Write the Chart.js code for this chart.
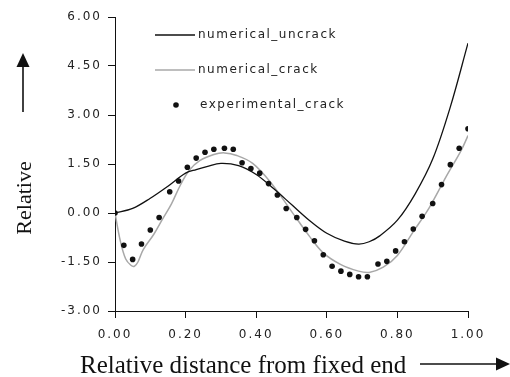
<!DOCTYPE html>
<html>
<head>
<meta charset="utf-8">
<script src="https://cdn.jsdelivr.net/npm/chart.js@4/dist/chart.umd.min.js"></script>
<style>
  html, body { margin: 0; padding: 0; background: #fff; }
  #wrap { width: 510px; height: 377px; }
</style>
</head>
<body>
<div id="wrap"><canvas id="modeChart" width="510" height="377"></canvas></div>
<script>
// ---- data ----
const seriesNames = ["numerical_uncrack", "numerical_crack", "experimental_crack"];

const xUncrack = [0, 0.05, 0.10, 0.15, 0.20, 0.23, 0.26, 0.30, 0.35, 0.40, 0.45, 0.50, 0.55, 0.60, 0.65, 0.69, 0.72, 0.75, 0.80, 0.85, 0.90, 0.95, 1.00];
const yUncrack = [0, 0.14, 0.45, 0.82, 1.22, 1.33, 1.42, 1.52, 1.45, 1.18, 0.74, 0.26, -0.22, -0.62, -0.86, -0.95, -0.88, -0.70, -0.22, 0.58, 1.65, 3.25, 5.20];

const xCrack = [0, 0.015, 0.03, 0.045, 0.055, 0.065, 0.08, 0.11, 0.135, 0.16, 0.185, 0.21, 0.24, 0.28, 0.31, 0.345, 0.39, 0.44, 0.50, 0.55, 0.59, 0.64, 0.69, 0.72, 0.76, 0.80, 0.845, 0.89, 0.94, 0.98, 1.00];
const yCrack = [0, -0.85, -1.40, -1.60, -1.63, -1.50, -1.12, -0.65, -0.18, 0.28, 0.85, 1.30, 1.60, 1.79, 1.84, 1.76, 1.52, 0.95, 0.05, -0.70, -1.22, -1.58, -1.78, -1.82, -1.66, -1.30, -0.57, 0.16, 1.15, 1.90, 2.37];

const xExp = [0, 0.025, 0.05, 0.075, 0.10, 0.125, 0.155, 0.18, 0.205, 0.23, 0.255, 0.28, 0.31, 0.335, 0.36, 0.385, 0.41, 0.435, 0.46, 0.485, 0.515, 0.54, 0.565, 0.59, 0.615, 0.64, 0.665, 0.69, 0.715, 0.745, 0.77, 0.795, 0.82, 0.845, 0.87, 0.90, 0.925, 0.95, 0.975, 1.00];
const yExp = [0, -0.99, -1.42, -0.95, -0.52, -0.14, 0.65, 0.98, 1.40, 1.68, 1.86, 1.95, 1.98, 1.95, 1.54, 1.36, 1.22, 0.90, 0.55, 0.14, -0.14, -0.50, -0.85, -1.28, -1.63, -1.78, -1.88, -1.95, -1.95, -1.56, -1.48, -1.16, -0.88, -0.49, -0.10, 0.29, 0.87, 1.48, 1.98, 2.58];

const xTicks = [0, 0.2, 0.4, 0.6, 0.8, 1.0];
const yTicks = [-3, -1.5, 0, 1.5, 3, 4.5, 6];

const toPoints = (xs, ys) => xs.map((x, i) => ({ x: x, y: ys[i] }));

// ---- titles, arrows and legend drawn on top ----
const extrasPlugin = {
  id: "extras",
  beforeDraw(chart) {
    chart.ctx.letterSpacing = "2px";
  },
  afterDraw(chart) {
    const ctx = chart.ctx;
    ctx.save();
    ctx.letterSpacing = "0px";
    ctx.fillStyle = "#111";
    ctx.strokeStyle = "#111";

    // y title + arrow
    ctx.save();
    ctx.translate(25, 198);
    ctx.rotate(-Math.PI / 2);
    ctx.font = "22px 'Liberation Serif'";
    ctx.textAlign = "center";
    ctx.textBaseline = "middle";
    ctx.fillText("Relative", 0, 0);
    ctx.restore();

    ctx.lineWidth = 1.6;
    ctx.beginPath();
    ctx.moveTo(23, 112); ctx.lineTo(23, 66);
    ctx.stroke();
    ctx.beginPath();
    ctx.moveTo(23, 53); ctx.lineTo(16.5, 67); ctx.lineTo(29.5, 67);
    ctx.closePath(); ctx.fill();

    // x title + arrow
    ctx.font = "25px 'Liberation Serif'";
    ctx.textAlign = "left";
    ctx.textBaseline = "alphabetic";
    ctx.fillText("Relative distance from fixed end", 80, 373);

    ctx.beginPath();
    ctx.moveTo(420, 364); ctx.lineTo(498, 364);
    ctx.stroke();
    ctx.beginPath();
    ctx.moveTo(510, 364); ctx.lineTo(496, 357.5); ctx.lineTo(496, 370.5);
    ctx.closePath(); ctx.fill();

    // legend
    const ds = chart.data.datasets;
    ctx.font = "12px 'DejaVu Sans'";
    ctx.letterSpacing = "1.5px";
    ctx.textBaseline = "middle";
    const rows = [35, 70, 105];
    ds.forEach((d, i) => {
      const y = rows[i];
      if (d.showLine === false) {
        ctx.fillStyle = d.backgroundColor;
        ctx.beginPath();
        ctx.arc(176, y, 2.8, 0, Math.PI * 2);
        ctx.fill();
      } else {
        ctx.strokeStyle = d.borderColor;
        ctx.lineWidth = d.borderWidth;
        ctx.beginPath();
        ctx.moveTo(155, y); ctx.lineTo(195, y);
        ctx.stroke();
      }
      ctx.fillStyle = "#222";
      ctx.fillText(d.label, i === 2 ? 200 : 198, y);
    });
    ctx.restore();
  }
};

new Chart(document.getElementById("modeChart").getContext("2d"), {
  type: "scatter",
  data: {
    datasets: [
      {
        label: seriesNames[0],
        data: toPoints(xUncrack, yUncrack),
        showLine: true,
        borderColor: "#111",
        borderWidth: 1.3,
        pointRadius: 0,
        tension: 0.35,
        order: 2
      },
      {
        label: seriesNames[1],
        data: toPoints(xCrack, yCrack),
        showLine: true,
        borderColor: "#a8a8a8",
        borderWidth: 1.5,
        pointRadius: 0,
        tension: 0.35,
        order: 3
      },
      {
        label: seriesNames[2],
        data: toPoints(xExp, yExp),
        showLine: false,
        backgroundColor: "#111",
        borderWidth: 0,
        pointRadius: 2.8,
        order: 1
      }
    ]
  },
  options: {
    responsive: false,
    animation: false,
    layout: { padding: { left: 0, top: 17, right: 42, bottom: 0 } },
    plugins: { legend: { display: false }, tooltip: { enabled: false } },
    scales: {
      x: {
        type: "linear",
        min: 0,
        max: 1,
        afterFit: s => { s.height = 66; },
        afterBuildTicks: s => { s.ticks = xTicks.map(v => ({ value: v })); },
        border: { display: true, color: "#111", width: 1 },
        grid: { drawOnChartArea: false, color: "#111", tickLength: 7 },
        ticks: {
          color: "#222",
          padding: 10,
          maxRotation: 0,
          font: { family: "'DejaVu Sans'", size: 12 },
          callback: v => v.toFixed(2)
        }
      },
      y: {
        min: -3,
        max: 6,
        afterFit: s => { s.width = 115; },
        afterBuildTicks: s => { s.ticks = yTicks.map(v => ({ value: v })); },
        border: { display: true, color: "#111", width: 1 },
        grid: { drawOnChartArea: false, color: "#111", tickLength: 7 },
        ticks: {
          color: "#222",
          padding: 6,
          font: { family: "'DejaVu Sans'", size: 12 },
          callback: v => v.toFixed(2)
        }
      }
    }
  },
  plugins: [extrasPlugin]
});
</script>
</body>
</html>
